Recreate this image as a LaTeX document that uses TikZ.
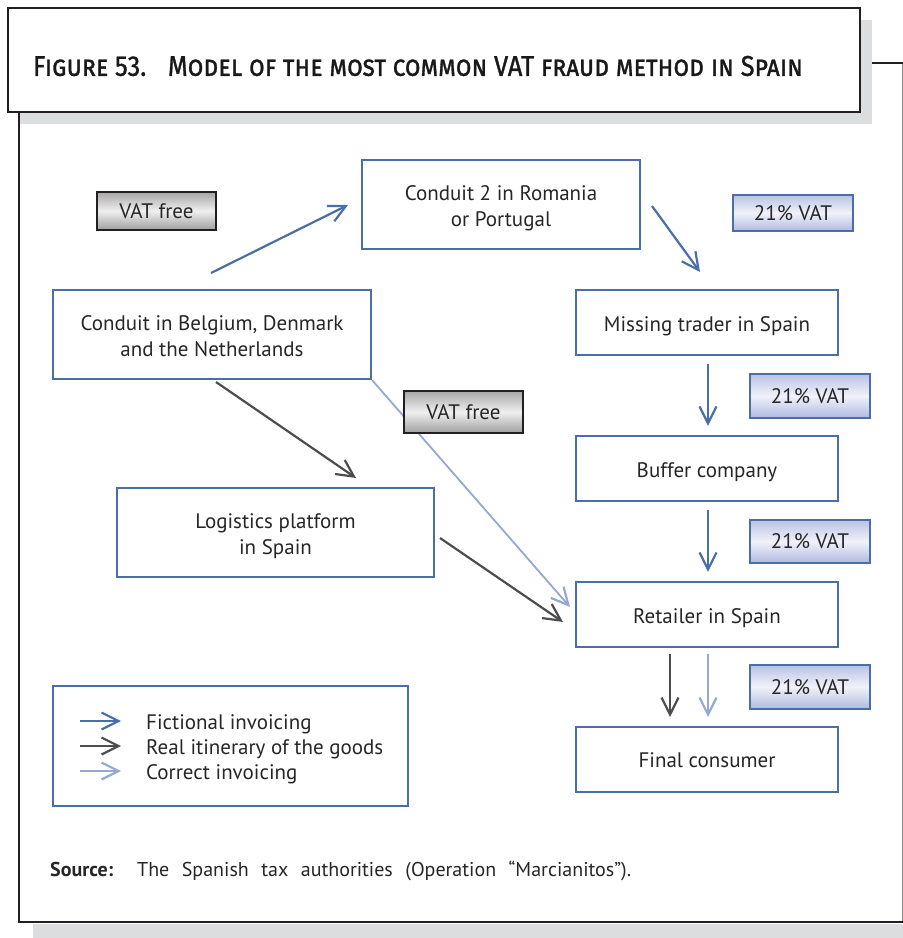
\documentclass[tikz,border=0pt]{standalone}
\usepackage{fontspec}
\newfontfamily\bodyfont{PT Sans}
\newfontfamily\titlefont[Letters=SmallCaps, FakeBold=1.2]{Fira Sans}
\newfontfamily\titlecaps[FakeBold=1.2]{Fira Sans}
\newcommand{\tstrut}[1][21.5pt]{\rule{0pt}{#1}}
\usetikzlibrary{arrows.meta}
\definecolor{bluebd}{RGB}{74,110,169}
\definecolor{darkarr}{RGB}{77,77,77}
\definecolor{lightarr}{RGB}{148,168,208}
\definecolor{shadowgray}{RGB}{220,221,222}
\definecolor{framedark}{RGB}{35,31,32}
\definecolor{vattop}{RGB}{186,194,226}
\definecolor{vatmid}{RGB}{240,242,250}
\definecolor{vatbot}{RGB}{176,185,222}
\tikzset{
  mainbox/.style={draw=bluebd, line width=2.2pt, fill=white, align=center, inner sep=0pt,
    font=\bodyfont\fontsize{21}{26}\selectfont, text=black!85},
  freebox/.style={draw=framedark, line width=1.2pt, top color=black!35, bottom color=black!38, middle color=black!6,
    minimum width=119pt, inner sep=0pt, font=\bodyfont\fontsize{21}{24}\selectfont, text=black!85},
  vatbox/.style={draw=bluebd, line width=1.2pt, top color=vattop, bottom color=vatbot, middle color=vatmid,
    minimum width=120pt, inner sep=0pt, font=\bodyfont\fontsize{21}{24}\selectfont, text=black!85},
  arr/.style={line width=2.2pt, -{Straight Barb[length=17pt,width=17pt,line width=2.2pt]}},
  fic/.style={arr, draw=bluebd},
  real/.style={arr, draw=darkarr},
  corr/.style={arr, draw=lightarr},
  legtext/.style={anchor=west, inner sep=0pt, font=\bodyfont\fontsize{21}{24}\selectfont, text=black!85}
}
\begin{document}
\begin{tikzpicture}[x=1pt,y=-1pt]
\useasboundingbox (0,0) rectangle (903,938);
% outer frame with shadow
\fill[shadowgray] (33,924) rectangle (903,938);
\draw[black!45, line width=1pt] (902.5,63) -- (902.5,922);
\draw[framedark, line width=2.5pt] (903,63) -- (19,63) -- (19,922) -- (903,922);
% title box with shadow
\fill[shadowgray] (20,20) rectangle (872,124);
\node[draw=framedark, line width=2.5pt, fill=white, minimum width=852pt, minimum height=104pt, inner sep=0pt] (title) at (434,60) {};
\node[inner sep=0pt, text=black!90] (titletext) at (418,66) {\resizebox{770pt}{20pt}{\fontsize{28}{30}\selectfont\titlefont Figure 53.\hspace{0.5em} Model of the most common {\titlecaps VAT} fraud method in Spain}};
% boxes
\node[mainbox, minimum width=278pt, minimum height=89pt] (c2) at (501,204.5) {\tstrut[23pt]Conduit 2 in Romania\\or Portugal};
\node[mainbox, minimum width=318pt, minimum height=89pt] (cb) at (212,334.5) {\tstrut[19pt]Conduit in Belgium, Denmark\\and the Netherlands};
\node[mainbox, minimum width=262pt, minimum height=65pt] (mt) at (707,322.5) {\tstrut Missing trader in Spain};
\node[mainbox, minimum width=262pt, minimum height=65pt] (bc) at (707,468.5) {\tstrut Buffer company};
\node[mainbox, minimum width=317pt, minimum height=89pt] (lp) at (275.5,532.5) {\tstrut[23pt]Logistics platform\\in Spain};
\node[mainbox, minimum width=262pt, minimum height=65pt] (rs) at (707,614.5) {\tstrut Retailer in Spain};
\node[mainbox, minimum width=262pt, minimum height=65pt] (fc) at (707,759.5) {\tstrut[17pt]Final consumer};
% tag boxes
\node[freebox, minimum height=38pt] (vf1) at (156.5,211) {VAT free};
\node[vatbox, minimum height=36pt] (v1) at (793,213) {21\% VAT};
\node[vatbox, minimum height=44pt] (v2) at (810,396) {21\% VAT};
\node[vatbox, minimum height=43pt] (v3) at (810,541.5) {21\% VAT};
\node[vatbox, minimum height=44pt] (v4) at (810,687) {21\% VAT};
% arrow coordinates
\coordinate (a1s) at (211,273);
\coordinate (a1e) at (348,205);
\coordinate (a2s) at (652,206);
\coordinate (a2e) at (700,272);
\coordinate (a3s) at (216,382);
\coordinate (a3e) at (356,478);
\coordinate (a4e) at (570,607);
\coordinate (a5s) at (440,538);
\coordinate (a5e) at (563,622);
\coordinate (a6s) at (670,654);
\coordinate (a6e) at (670,717);
\coordinate (a7s) at (708,654);
\coordinate (a7e) at (708,717);
\draw[fic] (a1s) -- (a1e);
\draw[fic] (a2s) -- (a2e);
\draw[fic, shorten <=8pt, shorten >=9pt] (mt.south -| 708,0) -- (bc.north -| 708,0);
\draw[fic, shorten <=8pt, shorten >=9pt] (bc.south -| 708,0) -- (rs.north -| 708,0);
\draw[real] (a3s) -- (a3e);
\draw[corr, line width=1.8pt] (cb.south east) -- (a4e);
\draw[real] (a5s) -- (a5e);
\draw[real] (a6s) -- (a6e);
\draw[corr] (a7s) -- (a7e);
% VAT free box over the light arrow
\node[freebox, minimum height=42pt] (vf2) at (463.5,412) {VAT free};
% legend
\node[draw=bluebd, line width=2.2pt, minimum width=355pt, minimum height=120pt, inner sep=0pt] (leg) at (230.5,746) {};
\coordinate (l1s) at (80,721); \coordinate (l1e) at (121,721);
\coordinate (l2s) at (80,746); \coordinate (l2e) at (121,746);
\coordinate (l3s) at (80,771); \coordinate (l3e) at (121,771);
\draw[fic] (l1s) -- (l1e);
\draw[real] (l2s) -- (l2e);
\draw[corr] (l3s) -- (l3e);
\node[legtext] (lt1) at (146,724) {Fictional invoicing};
\node[legtext] (lt2) at (146,749) {Real itinerary of the goods};
\node[legtext] (lt3) at (146,774) {Correct invoicing};
% source
\node[anchor=west, inner sep=0pt, font=\bodyfont\fontsize{20}{22}\selectfont, text=black!85] (src) at (50,871)
  {\textbf{Source:}\hspace{24pt}\spaceskip=12.5pt plus 1pt The Spanish tax authorities (Operation “Marcianitos”).};
\end{tikzpicture}
\end{document}
